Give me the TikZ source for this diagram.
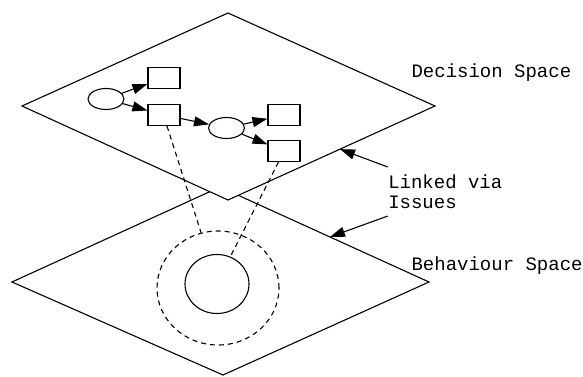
\documentclass[tikz,border=0pt]{standalone}
\usepackage{fontspec}
\setmonofont{Liberation Mono}
\usetikzlibrary{arrows.meta,shapes.geometric,calc}
\tikzset{
  state/.style={draw,ellipse,minimum width=36pt,minimum height=21pt,inner sep=0pt},
  choice/.style={draw,rectangle,minimum width=32pt,minimum height=21pt,inner sep=0pt},
  link/.style={-{Triangle[length=15pt,width=10pt]}},
  spacelabel/.style={font=\ttfamily\fontsize{19}{20}\selectfont,inner sep=0pt},
  issue/.style={dash pattern=on 5pt off 4pt}
}
\begin{document}
\begin{tikzpicture}[x=1pt,y=-1pt,line width=1.1pt]
  \useasboundingbox (0,0) rectangle (583,376);
  % behaviour space (lower plane)
  \coordinate (bL) at (12,282);
  \coordinate (bT) at (220,187);
  \coordinate (bR) at (429,282);
  \coordinate (bB) at (223,375);
  \draw (bL)--(bT)--(bR)--(bB)--cycle;
  % decision space (upper plane)
  \coordinate (dL) at (22,106);
  \coordinate (dT) at (228,13);
  \coordinate (dR) at (435,106);
  \coordinate (dB) at (228,200);
  \filldraw[fill=white] (dL)--(dT)--(dR)--(dB)--cycle;
  % decision graph
  \node[state] (e1) at (106,99) {};
  \node[choice] (c1) at (164,78) {};
  \node[choice] (c2) at (164,115) {};
  \node[state] (e2) at (226.5,128) {};
  \node[choice] (c3) at (284,115) {};
  \node[choice] (c4) at (284,151) {};
  \draw[link] (e1)--(c1);
  \draw[link] (e1)--(c2);
  \draw[link] (c2)--(e2);
  \draw[link] (e2)--(c3);
  \draw[link] (e2)--(c4);
  % behaviour regions
  \node[draw,ellipse,issue,minimum width=122pt,minimum height=114pt,inner sep=0pt] (zone) at (218,288) {};
  \node[draw,ellipse,minimum width=64pt,minimum height=59pt,inner sep=0pt] (core) at (217,284) {};
  \draw[issue] ([xshift=3pt]c2.south)--(zone.107);
  \draw[issue] ([xshift=-5.5pt]c4.south)--(core.64);
  % labels
  \node[spacelabel,anchor=base west] (dlabel) at (411,77.7) {Decision Space};
  \node[spacelabel,anchor=base west] (blabel) at (411,270) {Behaviour Space};
  \node[spacelabel,anchor=base west,align=left,inner ysep=7pt] (lnk) at (387.7,208.3) {Linked via\\Issues};
  \coordinate (dhit) at ($(dR)!0.459!(dB)$);
  \coordinate (bhit) at ($(bT)!0.526!(bR)$);
  \draw[link] (lnk.north west)--(dhit);
  \draw[link] (lnk.south west)--(bhit);
\end{tikzpicture}
\end{document}
